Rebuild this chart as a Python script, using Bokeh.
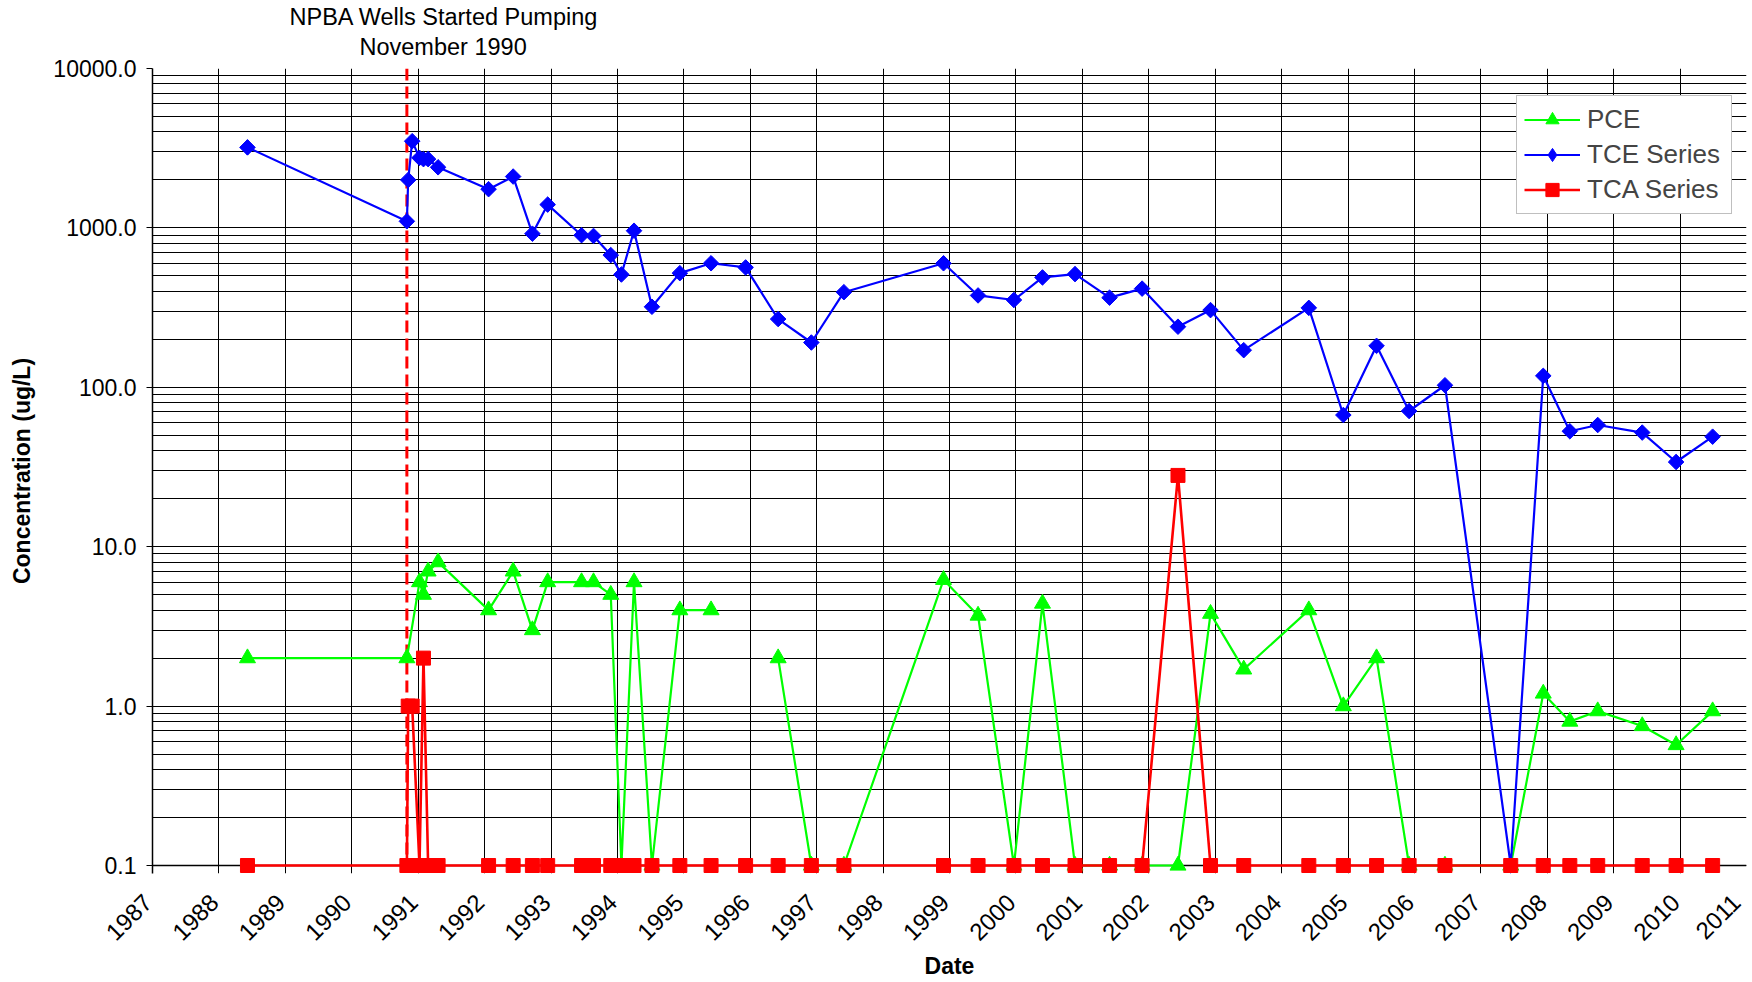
import numpy as np
from bokeh.plotting import figure
from bokeh.models import (FixedTicker, Span, Legend, LegendItem, Title, CDSView,
                          IndexFilter, ColumnDataSource, PrintfTickFormatter)
from bokeh.embed import file_html
from bokeh.resources import INLINE

# ---------------- data (decimal year sample dates) ----------------
dates = [1988.43, 1990.83, 1990.85, 1990.91, 1991.02, 1991.08, 1991.15, 1991.30,
         1992.06, 1992.43, 1992.72, 1992.95, 1993.46, 1993.64, 1993.90, 1994.06,
         1994.25, 1994.52, 1994.94, 1995.41, 1995.93, 1996.42, 1996.92, 1997.41,
         1998.91, 1999.43, 1999.97, 2000.40, 2000.89, 2001.41, 2001.90, 2002.44,
         2002.93, 2003.43, 2004.41, 2004.93, 2005.43, 2005.92, 2006.46, 2007.45,
         2007.94, 2008.34, 2008.76, 2009.43, 2009.94, 2010.49]

tce = [3200, 1100, 2000, 3500, 2750, 2700, 2700, 2400,
       1750, 2100, 920, 1400, 900, 890, 675, 510, 960, 320,
       520, 600, 565, 268, 191, 395, 600, 377, 353, 489,
       513, 365, 416, 240, 305, 171, 315, 67, 182, 71,
       103, 0.1, 118, 53, 58, 52, 34, 49]

# None = not sampled (line continues), nan = no reported value (line breaks)
nan = float("nan")
pce = [2.0, 2.0, None, None, 6, 5, 7, 8,
       4, 7, 3, 6, 6, 6, 5, 0.1, 6, 0.1,
       4, 4, nan, 2.0, 0.1, 0.1, 6.2, 3.7, 0.1, 4.4,
       0.1, 0.1, 0.1, 0.1, 3.8, 1.7, 4.0, 1.0, 2.0, 0.1,
       0.1, 0.1, 1.2, 0.8, 0.93, 0.75, 0.57, 0.93]

tca = [0.1, 0.1, 1.0, 1.0, 0.1, 2.0, 0.1, 0.1,
       0.1, 0.1, 0.1, 0.1, 0.1, 0.1, 0.1, 0.1, 0.1, 0.1,
       0.1, 0.1, 0.1, 0.1, 0.1, 0.1, 0.1, 0.1, 0.1, 0.1,
       0.1, 0.1, 0.1, 28, 0.1, 0.1, 0.1, 0.1, 0.1, 0.1,
       0.1, 0.1, 0.1, 0.1, 0.1, 0.1, 0.1, 0.1]

pumping_start = 1990.83
year_ticks = list(range(1987, 2012))
y_major = [0.1, 1, 10, 100, 1000, 10000]
y_minor = [m * 10.0 ** e for e in range(-1, 4) for m in range(2, 10)]

FONT = "Liberation Sans"
NBSP = "\u00a0"

# The frame extends a few pixels below the 0.1 baseline so that baseline
# markers are not cut in half; a black rule is drawn at 0.1 as the axis line.
FRAME_TOP, BASE_Y, PAD_BELOW = 68, 865, 8
per_decade = (BASE_Y - FRAME_TOP) / 5.0
y_start = 0.1 * 10 ** (-PAD_BELOW / per_decade)

p = figure(width=1750, height=982, x_range=(1987, 2011), y_range=(y_start, 10000),
           y_axis_type="log", output_backend="svg", toolbar_location=None,
           min_border_left=152, min_border_right=4, min_border_top=FRAME_TOP,
           min_border_bottom=982 - BASE_Y - PAD_BELOW, background_fill_color="white",
           border_fill_color="white")
p.outline_line_color = None

# titles (stacked above the frame; later-added sit further out, p.title outermost)
p.title.text = "NPBA Wells Started Pumping"
p.title.align = "left"
p.title.offset = 137
p.title.standoff = 1.5
p.title.text_font = FONT
p.title.text_font_size = "23.5px"
p.title.text_font_style = "normal"
p.title.text_color = "black"
p.add_layout(Title(text=NBSP, align="left", standoff=4, text_font=FONT,
                   text_font_size="1px", text_color="white"), "above")
p.add_layout(Title(text="November 1990", align="left", offset=207,
                   standoff=3, text_font=FONT, text_font_size="23.5px",
                   text_font_style="normal", text_color="black"), "above")

# grid
p.xgrid.ticker = FixedTicker(ticks=year_ticks)
p.ygrid.ticker = FixedTicker(ticks=y_major, minor_ticks=y_minor)
for g in (p.xgrid, p.ygrid):
    g.grid_line_color = "black"
    g.grid_line_width = 1
p.ygrid.minor_grid_line_color = "black"
p.ygrid.minor_grid_line_width = 1

# axes
xa = p.xaxis[0]
xa.ticker = FixedTicker(ticks=year_ticks)
xa.major_label_orientation = np.pi / 4
xa.major_label_overrides = {y: str(y) + NBSP for y in year_ticks}
xa.axis_label = "Date"
ya = p.yaxis[0]
ya.ticker = FixedTicker(ticks=y_major, minor_ticks=y_minor)
ya.formatter = PrintfTickFormatter(format="%.1f")
ya.axis_label = "Concentration (ug/L)"
for a in (xa, ya):
    a.axis_line_color = "black"
    a.axis_line_width = 1.5
    a.major_tick_line_color = "black"
    a.major_tick_out = 6
    a.major_tick_in = 0
    a.minor_tick_line_color = None
    a.major_label_text_font = FONT
    a.major_label_text_font_size = "23px"
    a.major_label_text_color = "black"
    a.axis_label_text_font = FONT
    a.axis_label_text_font_size = "23px"
    a.axis_label_text_font_style = "bold"
    a.axis_label_text_color = "black"
xa.axis_line_color = None
xa.major_tick_out = 0
xa.major_label_text_font_size = "24px"
xa.major_label_standoff = 20
xa.axis_label_standoff = -5
ya.major_label_standoff = 10
ya.axis_label_standoff = 15

# axis rule at the 0.1 baseline
p.add_layout(Span(location=0.1, dimension="width", line_color="black",
                  line_width=1.5, level="underlay"))
# dashed "pumping start" line
p.add_layout(Span(location=pumping_start, dimension="height", line_color="#FF0000",
                  line_width=3, line_dash="12 6", level="underlay"))

# series
x = np.array(dates)
pce_keep = [v is not None for v in pce]
pce_src = ColumnDataSource(dict(x=x[pce_keep],
                                y=np.array([v for v in pce if v is not None], dtype=float)))
tce_src = ColumnDataSource(dict(x=x, y=np.array(tce, dtype=float)))
tca_src = ColumnDataSource(dict(x=x, y=np.array(tca, dtype=float)))

pce_l = p.line("x", "y", source=pce_src, line_color="#00FF00", line_width=2.2)
pce_m = p.scatter("x", "y", source=pce_src, marker="triangle", size=16,
                  fill_color="#00FF00", line_color="#00FF00")
tce_l = p.line("x", "y", source=tce_src, line_color="#0000FF", line_width=2.2)
tce_m = p.scatter("x", "y", source=tce_src, marker="square", angle=np.pi / 4, size=11,
                  fill_color="#0000FF", line_color="#0000FF")
# legend key for TCE: a diamond drawn inside the first TCE marker
tce_key = p.scatter("x", "y", source=tce_src, view=CDSView(filter=IndexFilter(indices=[0])),
                    marker="diamond", size=15, fill_color="#0000FF", line_color="#0000FF")
tca_l = p.line("x", "y", source=tca_src, line_color="#FF0000", line_width=2.6)
tca_m = p.scatter("x", "y", source=tca_src, marker="square", size=14,
                  fill_color="#FF0000", line_color="#FF0000")

legend = Legend(items=[LegendItem(label="PCE", renderers=[pce_l, pce_m]),
                       LegendItem(label="TCE Series", renderers=[tce_l, tce_key]),
                       LegendItem(label="TCA Series", renderers=[tca_l, tca_m])],
                location=(1364, 651 + PAD_BELOW))
legend.label_text_font = FONT
legend.label_text_font_size = "26px"
legend.border_line_color = "#808080"
legend.border_line_width = 1.5
legend.background_fill_color = "white"
legend.background_fill_alpha = 1
legend.glyph_width = 56
legend.glyph_height = 33
legend.label_height = 33
legend.label_width = 137
legend.spacing = 2
legend.padding = 7
legend.label_standoff = 7
legend.margin = 0
p.add_layout(legend)

open("out.html", "w").write(file_html(p, INLINE))
